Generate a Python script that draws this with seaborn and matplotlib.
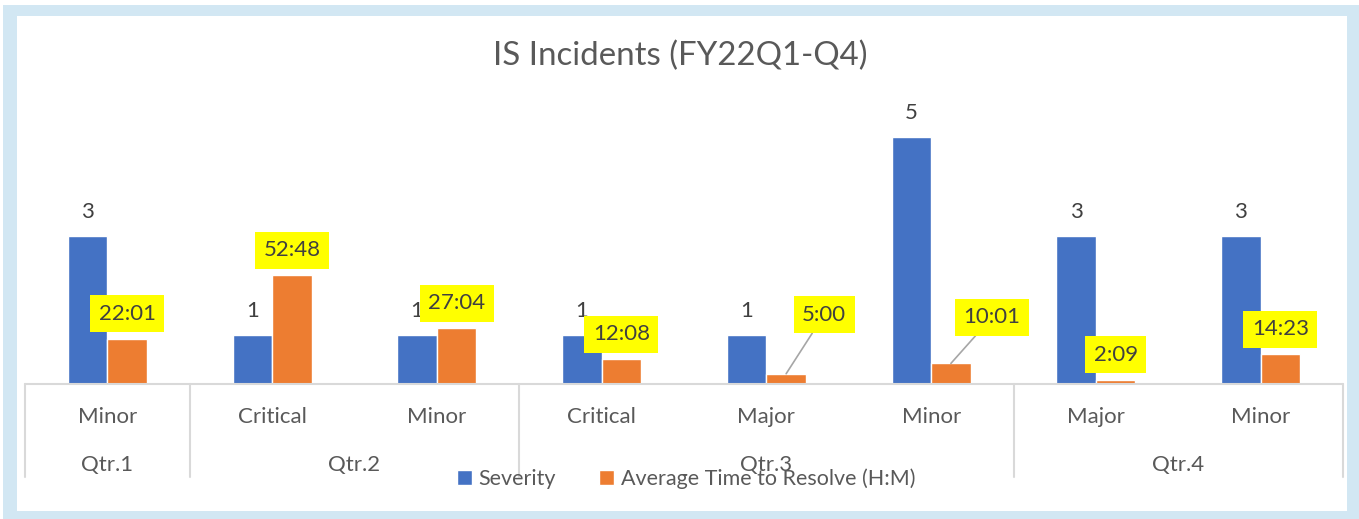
import matplotlib
matplotlib.use("Agg")
import matplotlib.pyplot as plt
import matplotlib.transforms as mtransforms
from matplotlib.patches import Rectangle
import seaborn as sns
import pandas as pd

# ---------------- data ----------------
quarters = ["Qtr.1", "Qtr.2", "Qtr.2", "Qtr.3", "Qtr.3", "Qtr.3", "Qtr.4", "Qtr.4"]
levels = ["Minor", "Critical", "Minor", "Critical", "Major", "Minor", "Major", "Minor"]
severity = [3, 1, 1, 1, 1, 5, 3, 3]
avg_time = ["22:01", "52:48", "27:04", "12:08", "5:00", "10:01", "2:09", "14:23"]
series_names = ["Severity", "Average Time to Resolve (H:M)"]
title = "IS Incidents (FY22Q1-Q4)"

# convert H:M to days (Excel time serial, same axis as severity)
def hm_to_days(s):
    h, m = s.split(":")
    return int(h) / 24 + int(m) / 1440

avg_days = [hm_to_days(s) for s in avg_time]
cats = [f"{q}|{l}|{i}" for i, (q, l) in enumerate(zip(quarters, levels))]

df = pd.DataFrame({
    "cat": cats * 2,
    "value": severity + avg_days,
    "series": [series_names[0]] * len(cats) + [series_names[1]] * len(cats),
})

# ---------------- style ----------------
sns.set_theme(style="white")
plt.rcParams['font.family'] = ['Lato', 'DejaVu Sans']

BLUE = "#4472C4"
ORANGE = "#ED7D31"
GRID = "#D9D9D9"
TEXT = "#595959"
LABEL = "#404040"
FRAME = "#D2E7F3"

W, H = 1359, 519
AX_H = 296
fig = plt.figure(figsize=(W / 100, H / 100), dpi=100)
fig.patch.set_facecolor("white")
# light-blue frame
fig.patches.append(Rectangle((3 / W, 0), 1 - 3 / W, (H - 5) / H, transform=fig.transFigure,
                             facecolor=FRAME, edgecolor="none", zorder=-10))
fig.patches.append(Rectangle((17 / W, 8 / H), (1347 - 17) / W, (503 - 8) / H, transform=fig.transFigure,
                             facecolor="white", edgecolor="none", zorder=-9))

ax = fig.add_axes([25 / W, (H - 384) / H, 1318 / W, AX_H / H])
ax.set_zorder(2)
ax.patch.set_alpha(0)

sns.barplot(data=df, x="cat", y="value", hue="series", order=cats, hue_order=series_names,
            palette=[BLUE, ORANGE], saturation=1, width=0.48, gap=0, errorbar=None,
            legend=False, ax=ax)

ax.set_xlim(-0.5, len(cats) - 0.5)
ax.set_ylim(0, 6)
for s in ax.spines.values():
    s.set_visible(False)
ax.set_xticks([])
ax.set_yticks([])
ax.set_xlabel("")
ax.set_ylabel("")

# baseline
ax.axhline(0, color=GRID, lw=1.5, clip_on=False, zorder=1)

# multi-level category axis
trans = mtransforms.blended_transform_factory(ax.transData, ax.transAxes)
bounds = [-0.5]
for i in range(1, len(quarters)):
    if quarters[i] != quarters[i - 1]:
        bounds.append(i - 0.5)
bounds.append(len(quarters) - 0.5)
for b in bounds:
    ax.plot([b, b], [0, -93 / AX_H], transform=trans, color=GRID, lw=1.5, clip_on=False)

for i, l in enumerate(levels):
    ax.text(i, -33 / AX_H, l, transform=trans, ha="center", va="center", fontsize=16, color=TEXT)

uq = []
for q in quarters:
    if q not in uq:
        uq.append(q)
for q in uq:
    idx = [i for i, qq in enumerate(quarters) if qq == q]
    ax.text(sum(idx) / len(idx), -81 / AX_H, q, transform=trans, ha="center", va="center",
            fontsize=16, color=TEXT)

# data labels
blue_bars = ax.containers[0]
orange_bars = ax.containers[1]
for p, v in zip(blue_bars, severity):
    cx = p.get_x() + p.get_width() / 2
    ax.annotate(str(v), xy=(cx, p.get_height()), xytext=(0, 24), textcoords="offset pixels",
                ha="center", va="center", fontsize=16, color=LABEL)

label_offsets = {4: (38, 59), 5: (41, 46)}
for i, (p, s) in enumerate(zip(orange_bars, avg_time)):
    cx = p.get_x() + p.get_width() / 2
    off = label_offsets.get(i, (0, 25))
    kw = {}
    if i in label_offsets:
        kw["arrowprops"] = dict(arrowstyle="-", color="#A6A6A6", lw=1.2, shrinkA=0, shrinkB=0)
    ax.annotate(s, xy=(cx, p.get_height()), xytext=off, textcoords="offset pixels",
                ha="center", va="center", fontsize=16, color=LABEL,
                bbox=dict(boxstyle="square,pad=0.38", fc="#FFFF00", ec="none"), **kw)

# title
fig.text(680 / W, (H - 56) / H, title, ha="center", va="center", fontsize=23.8, color=TEXT)

# legend
handles = [Rectangle((0, 0), 1, 1, fc=BLUE), Rectangle((0, 0), 1, 1, fc=ORANGE)]
fig.legend(handles, series_names, loc="center", bbox_to_anchor=(686 / W, (H - 479) / H), ncol=2,
           frameon=False, fontsize=15.5, handlelength=0.7, handleheight=0.7, handletextpad=0.3,
           columnspacing=2.0, labelcolor=TEXT)

fig.savefig("out.png", dpi=100)
